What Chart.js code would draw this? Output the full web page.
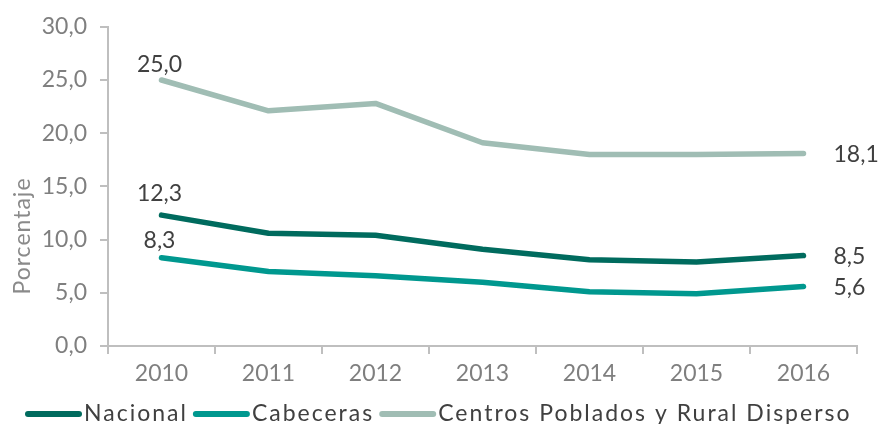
<!DOCTYPE html>
<html><head><meta charset="utf-8">
<script src="https://cdn.jsdelivr.net/npm/chart.js@4"></script>
<style>html,body{margin:0;padding:0;background:#fff}#wrap{width:878px;height:424px}</style>
</head><body><div id="wrap"><canvas id="c"></canvas></div>
<script>
const categories = ['2010','2011','2012','2013','2014','2015','2016'];
const nacional = [12.3, 10.6, 10.4, 9.1, 8.1, 7.9, 8.5];
const cabeceras = [8.3, 7.0, 6.6, 6.0, 5.1, 4.9, 5.6];
const centros = [25.0, 22.1, 22.8, 19.1, 18.0, 18.0, 18.1];
const seriesNames = ['Nacional','Cabeceras','Centros Poblados y Rural Disperso'];
const colors = ['#006b5e','#00988f','#a0bdb4'];
const firstLabelGap = [14, 10, 8];
const FONT = 'Lato';
const fmt = v => v.toFixed(1).replace('.', ',');

const labelPlugin = {
  id: 'labels',
  afterDraw(chart) {
    const ctx = chart.ctx;
    ctx.save();
    ctx.font = '23px ' + FONT;
    ctx.fillStyle = '#404040';
    chart.data.datasets.forEach((ds, i) => {
      const meta = chart.getDatasetMeta(i);
      const p0 = meta.data[0], pn = meta.data[meta.data.length - 1];
      ctx.textAlign = 'center'; ctx.textBaseline = 'alphabetic';
      ctx.fillText(fmt(ds.data[0]), p0.x - 2, p0.y - firstLabelGap[i]);
      ctx.textAlign = 'left'; ctx.textBaseline = 'middle';
      ctx.fillText(fmt(ds.data[ds.data.length - 1]), pn.x + 30, pn.y + 1);
    });
    ctx.restore();

    // axis title
    ctx.save();
    ctx.font = '23px ' + FONT;
    ctx.letterSpacing = '1px';
    ctx.translate(23, 236);
    ctx.rotate(-Math.PI / 2);
    ctx.textAlign = 'center'; ctx.textBaseline = 'middle';
    ctx.fillStyle = '#8a8a8a';
    ctx.fillText('Porcentaje', 0, 0);
    ctx.restore();

    // legend
    ctx.save();
    ctx.font = '23px ' + FONT;
    ctx.letterSpacing = '2px';
    ctx.textBaseline = 'middle'; ctx.textAlign = 'left';
    let x = 25; const y = 414;
    chart.data.datasets.forEach((ds) => {
      ctx.fillStyle = ds.borderColor;
      ctx.beginPath();
      ctx.roundRect(x, y - 3, 57, 6, 3);
      ctx.fill();
      ctx.fillStyle = '#404040';
      ctx.fillText(ds.label, x + 59, y);
      x = x + 59 + ctx.measureText(ds.label).width + 5;
    });
    ctx.restore();
  }
};

new Chart(document.getElementById('c'), {
  type: 'line',
  data: {
    labels: categories,
    datasets: [nacional, cabeceras, centros].map((d, i) => ({
      label: seriesNames[i], data: d,
      borderColor: colors[i], backgroundColor: colors[i],
      borderWidth: 5.5, pointRadius: 0, tension: 0, borderCapStyle: 'round', borderJoinStyle: 'round'
    }))
  },
  options: {
    responsive: true, maintainAspectRatio: false, animation: false,
    layout: { padding: { left: 0, right: 21, top: 22, bottom: 40 } },
    plugins: {
      tooltip: { enabled: false },
      legend: { display: false }
    },
    scales: {
      x: {
        offset: true,
        afterFit(s) { s.height = 38; },
        grid: { display: true, drawOnChartArea: false, offset: true, tickLength: 8, color: '#bfbfbf', lineWidth: 2 },
        border: { color: '#bfbfbf', width: 2 },
        ticks: { font: { size: 23, family: FONT }, color: '#7f7f7f', padding: 6 }
      },
      y: {
        min: 0, max: 30,
        afterFit(s) { s.width = 108; },
        grid: { display: true, drawOnChartArea: false, tickLength: 8, color: '#bfbfbf', lineWidth: 2 },
        border: { color: '#bfbfbf', width: 2 },
        ticks: { stepSize: 5, font: { size: 23, family: FONT }, color: '#7f7f7f', padding: 13, callback: v => fmt(v) }
      }
    }
  },
  plugins: [labelPlugin]
});
</script></body></html>
